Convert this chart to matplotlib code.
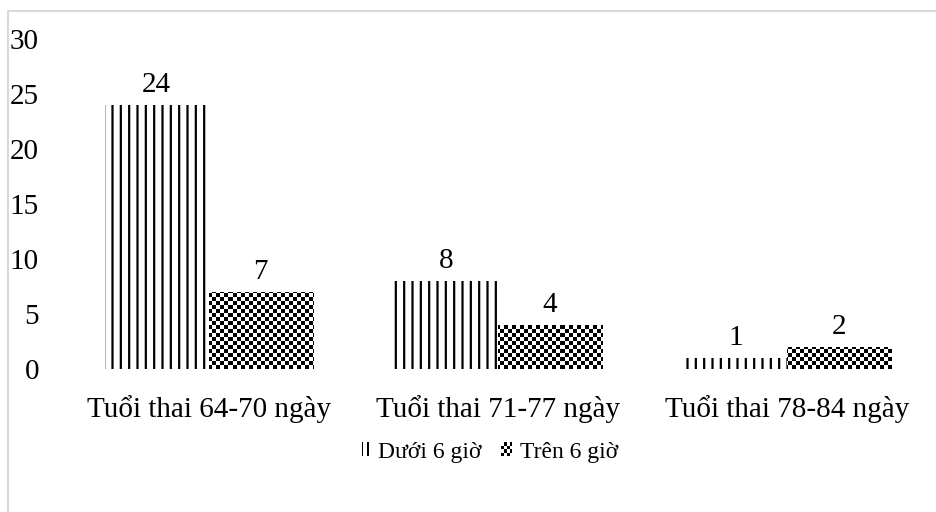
import numpy as np
import matplotlib
matplotlib.use('Agg')
import matplotlib.pyplot as plt
from matplotlib.patches import Rectangle
from matplotlib.legend_handler import HandlerBase

plt.rcParams['font.family'] = ['Liberation Serif', 'DejaVu Serif']
plt.rcParams['hatch.linewidth'] = 1.6

categories = ['Tuổi thai 64-70 ngày', 'Tuổi thai 71-77 ngày', 'Tuổi thai 78-84 ngày']
duoi_6_gio = [24, 8, 1]
tren_6_gio = [7, 4, 2]
series_names = ['Dưới 6 giờ', 'Trên 6 giờ']
y_ticks = [0, 5, 10, 15, 20, 25, 30]

W, H = 936, 512
fig = plt.figure(figsize=(W / 100, H / 100), dpi=100)

# khung xám nhạt quanh biểu đồ
fig.patches.append(Rectangle((8 / W, -0.1), 1.2, 1.1 - 11 / H, transform=fig.transFigure,
                             fill=False, edgecolor='#d9d9d9', linewidth=1.5))

ax_l, ax_w = 64 / W, 868 / W
ax_b, ax_h = (H - 369) / H, 330 / H
ax = fig.add_axes([ax_l, ax_b, ax_w, ax_h])

x = np.arange(len(categories))
bw = 0.36
off = 0.18

b1 = ax.bar(x - off, duoi_6_gio, bw, facecolor='white', edgecolor='black',
            linewidth=0, hatch='||')
b2 = ax.bar(x + off, tren_6_gio, bw, facecolor='none', edgecolor='none', linewidth=0)

# nền caro đen trắng, cắt theo từng cột
cell = 4
cols = int(round(ax_w * W / cell))
rows = int(round(ax_h * H / cell))
checker = np.add.outer(np.arange(rows), np.arange(cols)) % 2
for bar in b2:
    im = ax.imshow(checker, cmap='gray_r', vmin=0, vmax=1, interpolation='nearest',
                   extent=[0, 1, 0, 1], transform=ax.transAxes, aspect='auto', zorder=2)
    im.set_clip_path(bar)

for bars, vals in [(b1, duoi_6_gio), (b2, tren_6_gio)]:
    for bar, v in zip(bars, vals):
        ax.annotate(str(v), (bar.get_x() + bar.get_width() / 2, v),
                    xytext=(0, 5), textcoords='offset points',
                    ha='center', va='bottom', fontsize=21)

ax.set_xlim(-0.5, len(categories) - 0.5)
ax.set_ylim(0, 30)
ax.set_yticks(y_ticks)
ax.set_xticks(x)
ax.set_xticklabels(categories)
ax.tick_params(axis='y', length=0, pad=18, labelsize=21)
ax.tick_params(axis='x', length=0, pad=18.5, labelsize=21)
for s in ax.spines.values():
    s.set_visible(False)


class StripeHandler(HandlerBase):
    def create_artists(self, legend, orig_handle, xdescent, ydescent, width, height,
                       fontsize, trans):
        arts = []
        for fx in (0.25, 0.75):
            r = Rectangle((-xdescent + fx * width - 0.6, -ydescent), 1.4, height,
                          facecolor='black', edgecolor='none', transform=trans)
            arts.append(r)
        return arts


class CheckerHandler(HandlerBase):
    def create_artists(self, legend, orig_handle, xdescent, ydescent, width, height,
                       fontsize, trans):
        arts = []
        n = 4
        cw, ch = width / n, height / n
        for i in range(n):
            for j in range(n):
                c = 'black' if (i + j) % 2 == 0 else 'white'
                arts.append(Rectangle((-xdescent + i * cw, -ydescent + j * ch), cw, ch,
                                      facecolor=c, edgecolor='none', transform=trans))
        return arts


h1 = Rectangle((0, 0), 1, 1)
h2 = Rectangle((0, 0), 1, 1)
fig.legend([h1, h2], series_names, loc='center', bbox_to_anchor=(0.522, 0.117),
           ncol=2, frameon=False, fontsize=17, handlelength=0.5, handleheight=0.55,
           handletextpad=0.3, columnspacing=0.8,
           handler_map={h1: StripeHandler(), h2: CheckerHandler()})

fig.savefig('out.png', dpi=100)
